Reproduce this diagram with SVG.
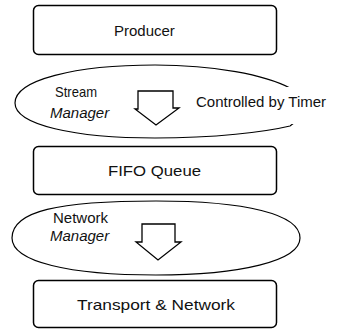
<svg xmlns="http://www.w3.org/2000/svg" width="352" height="329" viewBox="0 0 352 329">
<style>
.box{fill:#fff;stroke:#000;stroke-width:1.5}
.ell{fill:#fff;stroke:#000;stroke-width:1.2}
.arr{fill:#fff;stroke:#000;stroke-width:1.3;stroke-linejoin:miter}
text{font-family:"Liberation Sans",Arial,sans-serif;font-size:15px;fill:#111}
.it{font-style:italic}
</style>
<rect width="352" height="329" fill="#fff"/>
<g id="producer">
<rect class="box" x="33.5" y="5.5" width="243" height="49" rx="5"/>
<text x="114" y="36" font-size="14">Producer</text>
</g>
<g id="stream-manager">
<path class="ell" d="M15,103 C15,80 75,65 155,65 C215,65 265,75 290,88 C300,94 303,100 303,106 C303,115 298,121 290,126 C265,132 215,138 155,138 C75,138 15,125 15,103 Z"/>
<text x="55" y="97" font-size="14" textLength="42" lengthAdjust="spacingAndGlyphs">Stream</text>
<text class="it" x="50" y="118">Manager</text>
</g>
<g id="timer-label">
<rect x="190" y="87" width="162" height="37" fill="#fff"/>
<text x="196" y="107" font-size="14">Controlled by Timer</text>
</g>
<g id="fifo">
<rect class="box" x="33.5" y="146.5" width="243" height="48" rx="5"/>
<text x="108" y="176" textLength="93" lengthAdjust="spacingAndGlyphs">FIFO Queue</text>
</g>
<g id="network-manager">
<path class="ell" d="M12,238 C12,211 58,201 156,201 C245,201 300,214 300,238 C300,261 240,275 156,275 C70,275 12,262 12,238 Z"/>
<text x="53" y="223">Network</text>
<text class="it" x="50" y="241">Manager</text>
</g>
<g id="transport">
<rect class="box" x="33.5" y="280.5" width="243" height="47" rx="5"/>
<text x="77" y="310" textLength="158" lengthAdjust="spacingAndGlyphs">Transport &amp; Network</text>
</g>
<g id="connectors">
<polygon class="arr" points="138,91 173,91 173,108 179,108 156,125 135,109 138,109"/>
<polygon class="arr" points="142,224 175,224 175,242 181,242 158,260 136,242 142,242"/>
</g>
</svg>
